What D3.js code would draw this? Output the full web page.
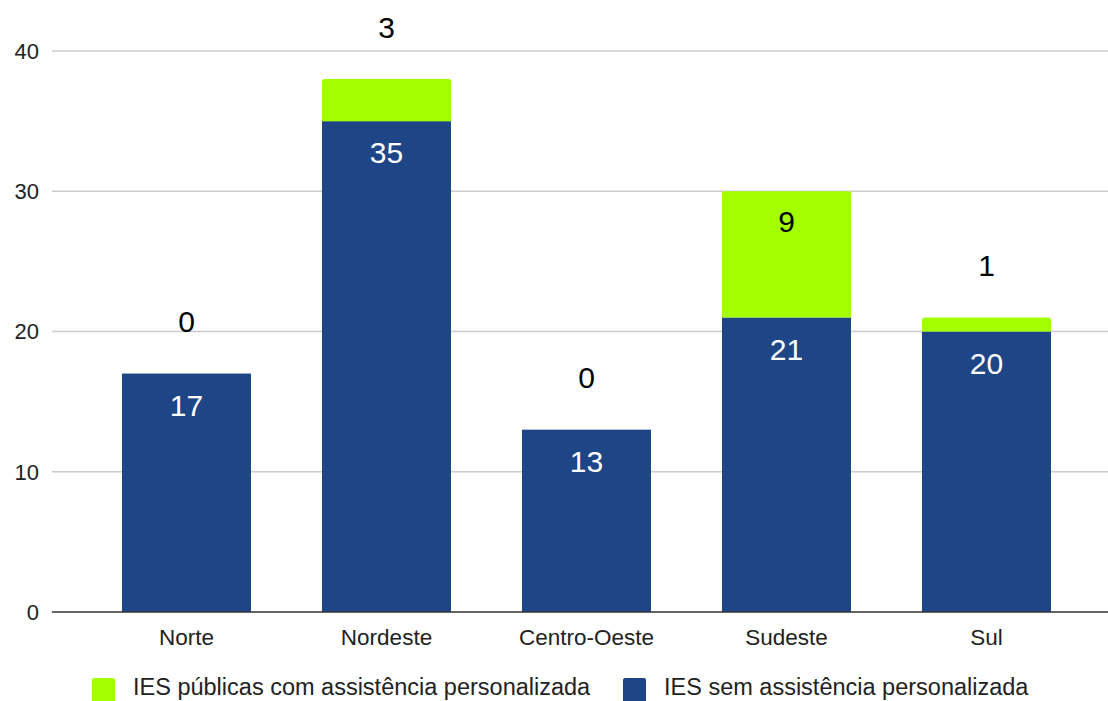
<!DOCTYPE html>
<html><head><meta charset="utf-8">
<script src="https://cdn.jsdelivr.net/npm/d3@7"></script>
<style>body{margin:0;background:#fff}svg{display:block;font-family:"Liberation Sans",Arial,sans-serif}</style>
</head><body>
<svg id="c" width="1108" height="701"></svg>
<script>
const categories = ["Norte","Nordeste","Centro-Oeste","Sudeste","Sul"];
const semAssist = [17,35,13,21,20];
const comAssist = [0,3,0,9,1];
const seriesNames = ["IES públicas com assistência personalizada","IES sem assistência personalizada"];
const yTicks = [0,10,20,30,40];

const blue = "#1e4586", green = "#a3ff00";
const svg = d3.select("#c");
const x = d3.scaleBand().domain(categories).range([86.5,1086.5]).paddingInner(0.355).paddingOuter(0.1775);
const y = d3.scaleLinear().domain([0,40]).range([612,51]);

// gridlines
svg.append("g").selectAll("line").data(yTicks.slice(1)).join("line")
  .attr("x1",52).attr("x2",1108).attr("y1",d=>y(d)).attr("y2",d=>y(d))
  .attr("stroke","#cccccc").attr("stroke-width",1.3);
// y labels
svg.append("g").selectAll("text").data(yTicks).join("text")
  .attr("x",39).attr("y",d=>y(d)).attr("dy","0.36em").attr("text-anchor","end")
  .attr("font-size",22).attr("fill","#222").text(d=>d);

const data = categories.map((c,i)=>({c, a:semAssist[i], b:comAssist[i]}));
// blue bars
svg.append("g").selectAll("rect").data(data).join("rect")
  .attr("x",d=>x(d.c)).attr("width",x.bandwidth())
  .attr("y",d=>y(d.a)).attr("height",d=>y(0)-y(d.a)).attr("fill",blue);
// green bars (rounded top)
svg.append("g").selectAll("path").data(data.filter(d=>d.b>0)).join("path")
  .attr("fill",green)
  .attr("d",d=>{
    const x0=x(d.c), w=x.bandwidth(), top=y(d.a+d.b), bot=y(d.a), r=2.5;
    return `M${x0},${bot}V${top+r}Q${x0},${top} ${x0+r},${top}H${x0+w-r}Q${x0+w},${top} ${x0+w},${top+r}V${bot}Z`;
  });
// baseline
svg.append("line").attr("x1",52).attr("x2",1108).attr("y1",y(0)).attr("y2",y(0))
  .attr("stroke","#333").attr("stroke-width",1.5);
// blue labels
svg.append("g").selectAll("text").data(data).join("text")
  .attr("x",d=>x(d.c)+x.bandwidth()/2).attr("y",d=>y(d.a)+31.5).attr("dy","0.36em")
  .attr("text-anchor","middle").attr("font-size",30).attr("fill","#fff").text(d=>d.a);
// green labels
svg.append("g").selectAll("text").data(data).join("text")
  .attr("x",d=>x(d.c)+x.bandwidth()/2)
  .attr("y",d=>{ const top=y(d.a+d.b); return (y(d.a)-top) > 60 ? top+30 : top-52; })
  .attr("dy","0.36em").attr("text-anchor","middle").attr("font-size",30).attr("fill","#000").text(d=>d.b);
// x labels
svg.append("g").selectAll("text").data(categories).join("text")
  .attr("x",d=>x(d)+x.bandwidth()/2).attr("y",645)
  .attr("text-anchor","middle").attr("font-size",22.5).attr("fill","#222").text(d=>d);
// legend
const leg = [{n:seriesNames[0],c:green,x:92},{n:seriesNames[1],c:blue,x:623}];
const lg = svg.append("g").selectAll("g").data(leg).join("g");
lg.append("rect").attr("x",d=>d.x).attr("y",678).attr("width",23).attr("height",26).attr("rx",2).attr("fill",d=>d.c);
lg.append("text").attr("x",d=>d.x+41).attr("y",695).attr("font-size",23.5).attr("fill","#222").text(d=>d.n);
</script>
</body></html>
